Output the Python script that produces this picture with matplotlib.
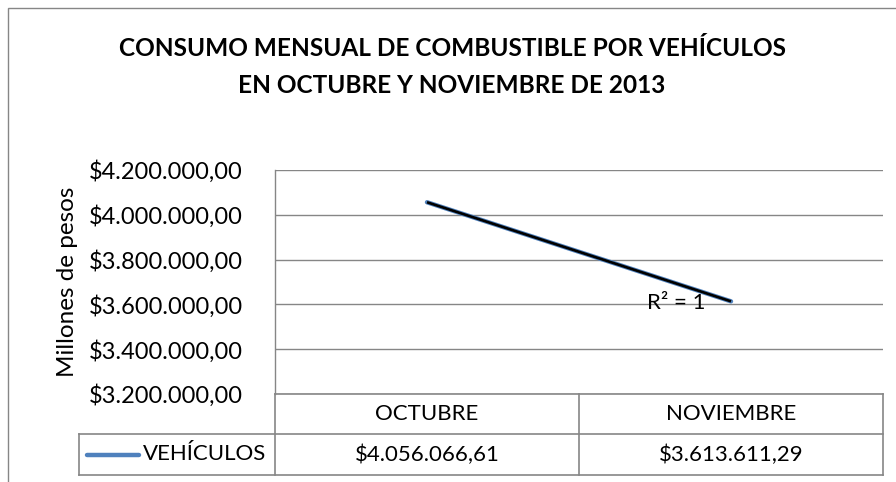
import numpy as np
import matplotlib
matplotlib.use("Agg")
import matplotlib.pyplot as plt
from matplotlib.patches import Rectangle
from matplotlib.lines import Line2D
import matplotlib.transforms as mtransforms

plt.rcParams['font.family'] = ['Lato', 'DejaVu Sans']

# ---- data ----
categories = ["OCTUBRE", "NOVIEMBRE"]
series_name = "VEHÍCULOS"
values = [4056066.61, 3613611.29]
value_labels = ["$4.056.066,61", "$3.613.611,29"]
y_ticks = [3200000, 3400000, 3600000, 3800000, 4000000, 4200000]
y_tick_labels = ["$3.200.000,00", "$3.400.000,00", "$3.600.000,00",
                 "$3.800.000,00", "$4.000.000,00", "$4.200.000,00"]
title = "CONSUMO MENSUAL DE COMBUSTIBLE POR VEHÍCULOS\nEN OCTUBRE Y NOVIEMBRE DE 2013"
y_label = "Millones de pesos"
r2_label = "R² = 1"

W, H = 896, 482
fig = plt.figure(figsize=(W / 100, H / 100), dpi=100)

def fx(px):
    return px / W

def fy(py):
    return 1 - py / H

GRID = "#868686"
BLUE = "#4F81BD"

# outer chart frame
fig.patches.append(Rectangle((fx(8), fy(490)), fx(900) - fx(8), fy(8) - fy(490),
                             transform=fig.transFigure, fill=False,
                             edgecolor=GRID, lw=1.0))

left, right, top, bottom = 275, 883, 170, 394
ax = fig.add_axes([fx(left), fy(bottom), fx(right) - fx(left), fy(top) - fy(bottom)])

x = np.arange(len(categories))
ax.set_xlim(-0.5, len(categories) - 0.5)
ax.set_ylim(y_ticks[0], y_ticks[-1])
ax.set_yticks(y_ticks)
ax.set_yticklabels(y_tick_labels, fontsize=17)
ax.tick_params(axis='y', length=0, pad=23)
ax.set_xticks([])
ax.yaxis.grid(True, color=GRID, lw=1.0)
ax.set_axisbelow(True)
for s in ['top', 'right', 'bottom']:
    ax.spines[s].set_visible(False)
ax.spines['left'].set_color(GRID)
ax.spines['left'].set_linewidth(1.0)
ax.set_ylabel(y_label, fontsize=17.5, labelpad=8)

# series line
ax.plot(x, values, color=BLUE, lw=3.2, solid_capstyle='round', zorder=3)
# linear trendline
coef = np.polyfit(x, values, 1)
ax.plot(x, np.polyval(coef, x), color="black", lw=1.9, solid_capstyle='butt', zorder=4)
ax.text(0.612, 0.405, r2_label, transform=ax.transAxes, fontsize=16,
        ha='left', va='center', zorder=5)

# title
fig.text(fx(452), fy(67), title, ha='center', va='center', fontsize=17.6,
         fontweight='bold', linespacing=1.75)

# ---- data table under the plot ----
trans = mtransforms.blended_transform_factory(ax.transData, fig.transFigure)
row_top, row_mid, row_bot = fy(394), fy(434), fy(475)
xl, xr = -0.5, len(categories) - 0.5
inv = ax.transData.inverted()
legend_left = inv.transform(fig.transFigure.transform((fx(79), 0)))[0]

tbl_lines = [
    ([xl, xr], [row_top, row_top]),
    ([legend_left, xr], [row_mid, row_mid]),
    ([legend_left, xr], [row_bot, row_bot]),
    ([legend_left, legend_left], [row_mid, row_bot]),
]
for i in range(len(categories) + 1):
    xv = xl + i
    tbl_lines.append(([xv, xv], [row_top, row_bot]))
for xs, ys in tbl_lines:
    fig.add_artist(Line2D(xs, ys, transform=trans, color=GRID, lw=1.2))

for i, cat in enumerate(categories):
    fig.text(x[i], (row_top + row_mid) / 2, cat, transform=trans,
             ha='center', va='center', fontsize=16)
    fig.text(x[i], (row_mid + row_bot) / 2, value_labels[i], transform=trans,
             ha='center', va='center', fontsize=16)

# legend key in table
key_y = (row_mid + row_bot) / 2
fig.add_artist(Line2D([fx(87), fx(139)], [key_y, key_y], transform=fig.transFigure,
                      color=BLUE, lw=3.2, solid_capstyle='round'))
fig.text(fx(143), key_y, series_name, ha='left', va='center', fontsize=16)

fig.savefig("out.png", dpi=100)
